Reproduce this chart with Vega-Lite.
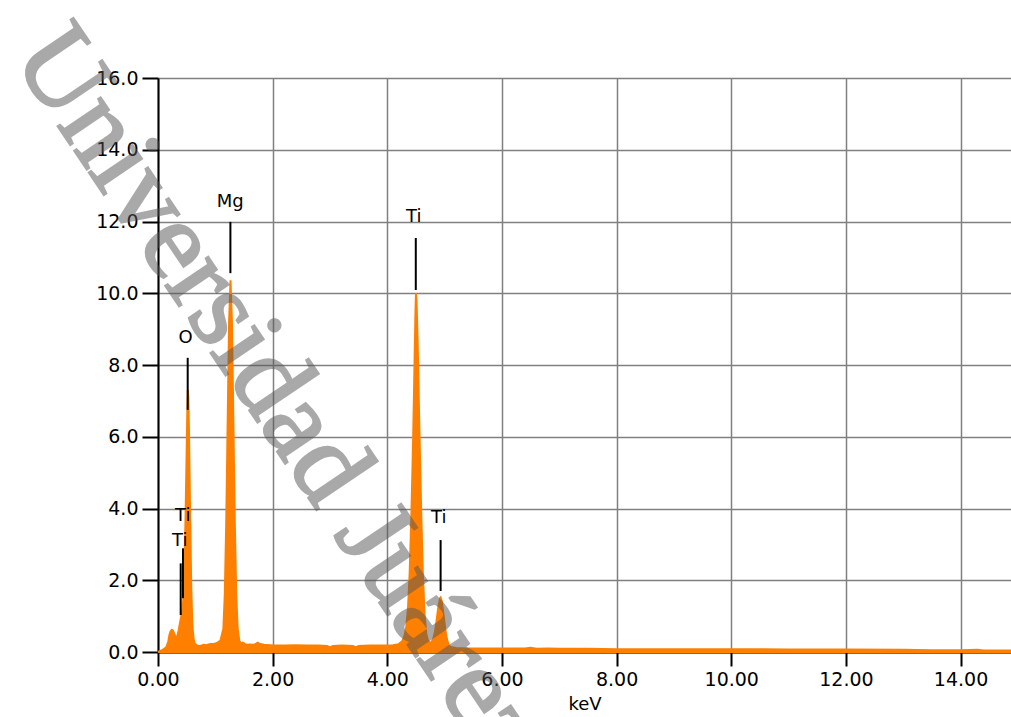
{
  "$schema": "https://vega.github.io/schema/vega-lite/v6.json",
  "width": 853,
  "height": 574,
  "autosize": {"type": "none"},
  "padding": {"left": 158, "top": 78, "right": 0, "bottom": 65},
  "background": "white",
  "config": {
    "view": {"stroke": null},
    "axis": {
      "labelFont": "DejaVu Sans",
      "labelFontSize": 19,
      "labelColor": "black",
      "labelFlush": false,
      "labelOverlap": false,
      "labelBound": false,
      "tickColor": "black",
      "tickWidth": 2,
      "domainColor": "black",
      "domainWidth": 2,
      "gridColor": "#808080",
      "gridWidth": 1.5,
      "gridOpacity": 1,
      "titleFont": "DejaVu Sans",
      "titleFontSize": 18,
      "titleFontWeight": "normal",
      "titleColor": "black"
    }
  },
  "datasets": {
    "spectrum": [
      {"e": 0.00, "c": 0.00}, {"e": 0.04, "c": 0.03}, {"e": 0.08, "c": 0.06}, {"e": 0.12, "c": 0.10},
      {"e": 0.15, "c": 0.15}, {"e": 0.18, "c": 0.30}, {"e": 0.20, "c": 0.48}, {"e": 0.22, "c": 0.58},
      {"e": 0.24, "c": 0.62}, {"e": 0.26, "c": 0.60}, {"e": 0.28, "c": 0.52}, {"e": 0.30, "c": 0.44},
      {"e": 0.32, "c": 0.40}, {"e": 0.34, "c": 0.46}, {"e": 0.36, "c": 0.60}, {"e": 0.38, "c": 0.78},
      {"e": 0.40, "c": 0.95}, {"e": 0.42, "c": 1.10}, {"e": 0.44, "c": 1.45}, {"e": 0.46, "c": 2.30},
      {"e": 0.48, "c": 3.70}, {"e": 0.50, "c": 5.60}, {"e": 0.51, "c": 6.60}, {"e": 0.52, "c": 7.30},
      {"e": 0.53, "c": 7.10}, {"e": 0.54, "c": 6.20}, {"e": 0.56, "c": 3.90}, {"e": 0.58, "c": 1.80},
      {"e": 0.60, "c": 0.75}, {"e": 0.62, "c": 0.38}, {"e": 0.64, "c": 0.24}, {"e": 0.68, "c": 0.18},
      {"e": 0.72, "c": 0.17}, {"e": 0.76, "c": 0.18}, {"e": 0.80, "c": 0.20}, {"e": 0.84, "c": 0.19},
      {"e": 0.88, "c": 0.21}, {"e": 0.92, "c": 0.22}, {"e": 0.96, "c": 0.22}, {"e": 1.00, "c": 0.24},
      {"e": 1.04, "c": 0.26}, {"e": 1.09, "c": 0.32}, {"e": 1.14, "c": 0.65}, {"e": 1.165, "c": 1.60},
      {"e": 1.19, "c": 3.60}, {"e": 1.215, "c": 6.40}, {"e": 1.24, "c": 9.20}, {"e": 1.265, "c": 10.36},
      {"e": 1.29, "c": 9.20}, {"e": 1.315, "c": 6.40}, {"e": 1.34, "c": 3.60}, {"e": 1.365, "c": 1.60},
      {"e": 1.39, "c": 0.65}, {"e": 1.42, "c": 0.30}, {"e": 1.45, "c": 0.24}, {"e": 1.48, "c": 0.26},
      {"e": 1.52, "c": 0.22}, {"e": 1.56, "c": 0.20}, {"e": 1.60, "c": 0.21}, {"e": 1.65, "c": 0.20},
      {"e": 1.70, "c": 0.22}, {"e": 1.74, "c": 0.26}, {"e": 1.78, "c": 0.22}, {"e": 1.85, "c": 0.20},
      {"e": 1.95, "c": 0.19}, {"e": 2.05, "c": 0.18}, {"e": 2.20, "c": 0.18}, {"e": 2.40, "c": 0.19},
      {"e": 2.60, "c": 0.18}, {"e": 2.80, "c": 0.18}, {"e": 2.95, "c": 0.17}, {"e": 3.00, "c": 0.13},
      {"e": 3.05, "c": 0.17}, {"e": 3.20, "c": 0.18}, {"e": 3.40, "c": 0.17}, {"e": 3.45, "c": 0.13},
      {"e": 3.50, "c": 0.17}, {"e": 3.70, "c": 0.18}, {"e": 3.90, "c": 0.18}, {"e": 4.10, "c": 0.19},
      {"e": 4.20, "c": 0.22}, {"e": 4.26, "c": 0.30}, {"e": 4.30, "c": 0.45}, {"e": 4.33, "c": 0.70},
      {"e": 4.36, "c": 1.20}, {"e": 4.39, "c": 2.20}, {"e": 4.42, "c": 3.80}, {"e": 4.45, "c": 5.90},
      {"e": 4.47, "c": 7.60}, {"e": 4.49, "c": 9.40}, {"e": 4.50, "c": 10.00}, {"e": 4.51, "c": 9.80},
      {"e": 4.53, "c": 8.60}, {"e": 4.56, "c": 6.20}, {"e": 4.59, "c": 4.00}, {"e": 4.62, "c": 2.20},
      {"e": 4.65, "c": 1.05}, {"e": 4.68, "c": 0.50}, {"e": 4.71, "c": 0.32}, {"e": 4.74, "c": 0.26},
      {"e": 4.77, "c": 0.27}, {"e": 4.80, "c": 0.36}, {"e": 4.83, "c": 0.55}, {"e": 4.86, "c": 0.88},
      {"e": 4.89, "c": 1.25}, {"e": 4.92, "c": 1.50}, {"e": 4.93, "c": 1.52}, {"e": 4.95, "c": 1.42},
      {"e": 4.98, "c": 1.05}, {"e": 5.01, "c": 0.65}, {"e": 5.04, "c": 0.36}, {"e": 5.07, "c": 0.20},
      {"e": 5.10, "c": 0.14}, {"e": 5.20, "c": 0.11}, {"e": 5.40, "c": 0.10}, {"e": 5.70, "c": 0.10},
      {"e": 6.00, "c": 0.10}, {"e": 6.40, "c": 0.10}, {"e": 6.50, "c": 0.12}, {"e": 6.60, "c": 0.09},
      {"e": 6.80, "c": 0.10}, {"e": 7.00, "c": 0.09}, {"e": 7.50, "c": 0.09}, {"e": 8.00, "c": 0.08},
      {"e": 8.50, "c": 0.08}, {"e": 9.00, "c": 0.08}, {"e": 10.00, "c": 0.08}, {"e": 11.00, "c": 0.07},
      {"e": 12.00, "c": 0.07}, {"e": 13.00, "c": 0.06}, {"e": 13.50, "c": 0.05}, {"e": 14.00, "c": 0.05},
      {"e": 14.30, "c": 0.06}, {"e": 14.40, "c": 0.04}, {"e": 14.88, "c": 0.04}
    ],
    "markers": [
      {"x": 0.518, "y1": 6.75, "y2": 8.20},
      {"x": 1.263, "y1": 10.56, "y2": 11.99},
      {"x": 4.497, "y1": 10.09, "y2": 11.54},
      {"x": 4.93, "y1": 1.70, "y2": 3.12},
      {"x": 0.436, "y1": 1.50, "y2": 2.89},
      {"x": 0.396, "y1": 1.03, "y2": 2.47}
    ],
    "labels": [
      {"x": 0.483, "y": 8.61, "t": "O"},
      {"x": 1.26, "y": 12.40, "t": "Mg"},
      {"x": 4.46, "y": 11.99, "t": "Ti"},
      {"x": 4.898, "y": 3.60, "t": "Ti"},
      {"x": 0.431, "y": 3.65, "t": "Ti"},
      {"x": 0.379, "y": 2.95, "t": "Ti"}
    ],
    "stamp": [
      {"x": -2.56, "y": 16.58, "t": "Universidad Juárez Autónoma de Tabasco"}
    ]
  },
  "layer": [
    {
      "data": {"name": "spectrum"},
      "mark": {"type": "area", "color": "#ff8000", "stroke": "#ff8000", "strokeWidth": 2, "interpolate": "linear"},
      "encoding": {
        "x": {
          "field": "e", "type": "quantitative",
          "scale": {"domain": [0, 14.88], "nice": false, "zero": false},
          "axis": {
            "values": [0, 2, 4, 6, 8, 10, 12, 14],
            "format": ".2f",
            "tickSize": 14,
            "labelPadding": 4,
            "title": "keV",
            "titlePadding": 6
          }
        },
        "y": {
          "field": "c", "type": "quantitative",
          "scale": {"domain": [0, 16], "nice": false},
          "axis": {
            "values": [0, 2, 4, 6, 8, 10, 12, 14, 16],
            "format": ".1f",
            "tickSize": 16,
            "labelPadding": 4,
            "title": null
          }
        }
      }
    },
    {
      "mark": {"type": "rule", "color": "black", "strokeWidth": 2},
      "encoding": {"y": {"datum": 16}}
    },
    {
      "data": {"name": "markers"},
      "mark": {"type": "rule", "color": "black", "strokeWidth": 2},
      "encoding": {
        "x": {"field": "x", "type": "quantitative"},
        "y": {"field": "y1", "type": "quantitative"},
        "y2": {"field": "y2"}
      }
    },
    {
      "data": {"name": "labels"},
      "mark": {"type": "text", "font": "DejaVu Sans", "fontSize": 18, "color": "black", "align": "center", "baseline": "alphabetic"},
      "encoding": {
        "x": {"field": "x", "type": "quantitative"},
        "y": {"field": "y", "type": "quantitative"},
        "text": {"field": "t"}
      }
    },
    {
      "mark": {"type": "text", "font": "DejaVu Sans", "fontSize": 18, "color": "black", "align": "left", "baseline": "alphabetic", "dy": -3},
      "encoding": {
        "x": {"datum": 0},
        "y": {"datum": 16},
        "text": {"value": "[MAP 1]"}
      }
    },
    {
      "data": {"name": "stamp"},
      "mark": {"type": "text", "font": "Liberation Serif", "fontSize": 112, "fill": "#555555", "stroke": "#555555", "strokeWidth": 2.5, "opacity": 0.5, "align": "left", "baseline": "alphabetic", "angle": 56},
      "encoding": {
        "x": {"field": "x", "type": "quantitative"},
        "y": {"field": "y", "type": "quantitative"},
        "text": {"field": "t"}
      }
    }
  ]
}
